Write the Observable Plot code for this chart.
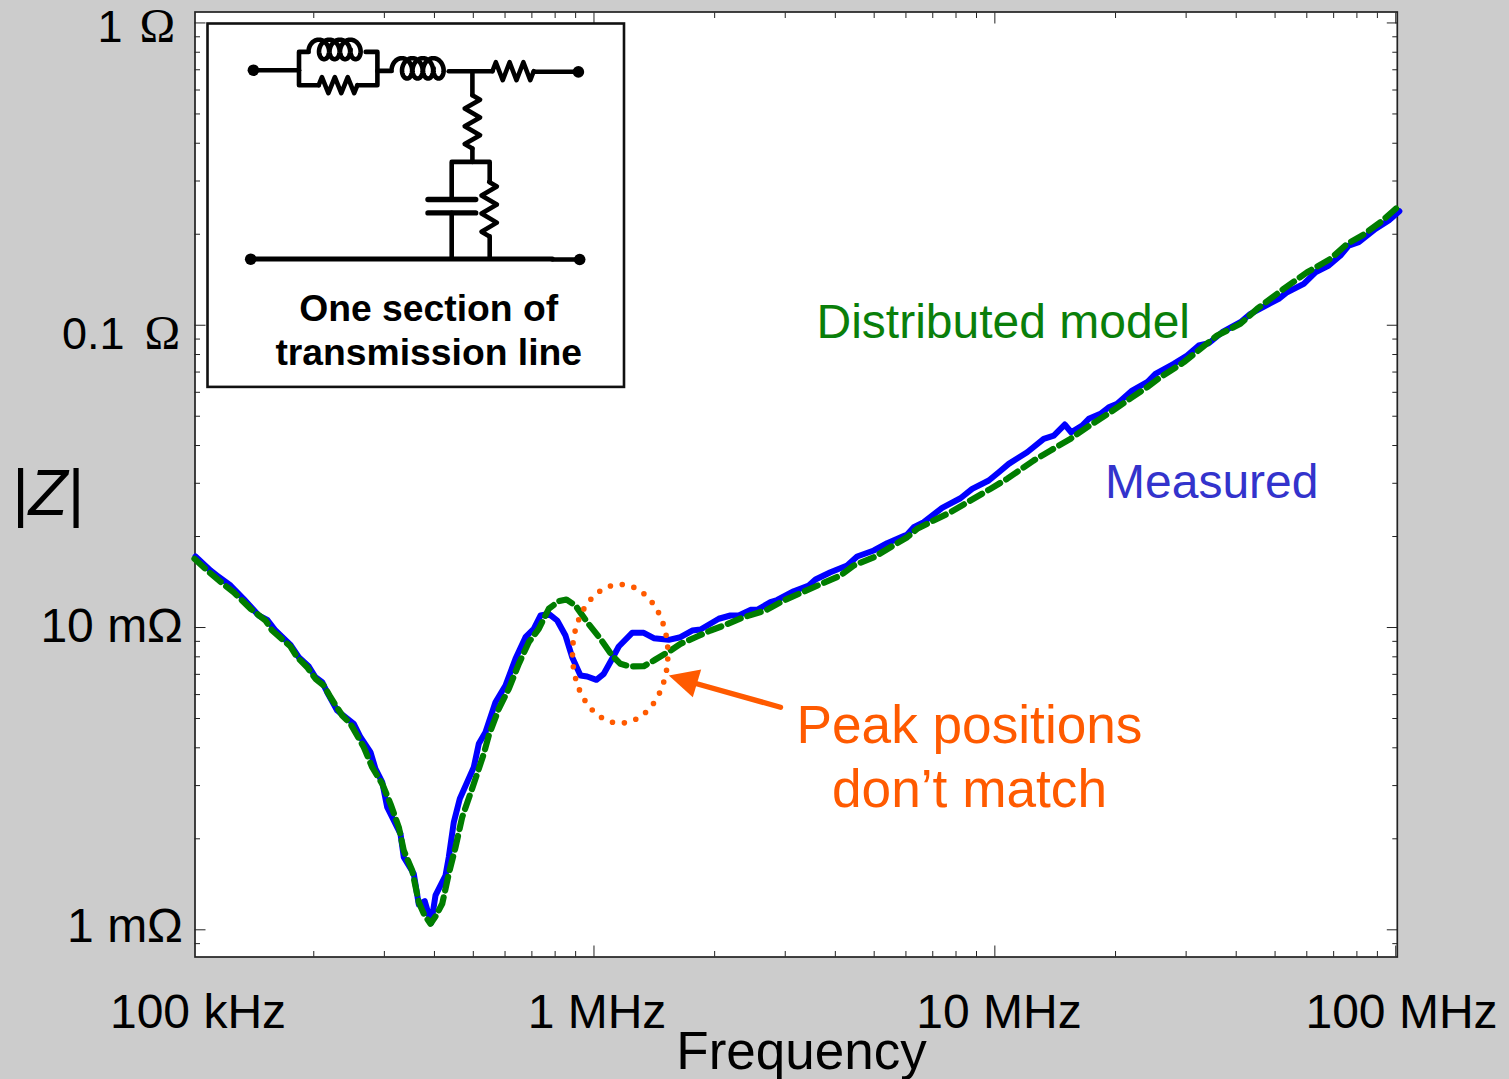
<!DOCTYPE html>
<html><head><meta charset="utf-8">
<script src="https://cdn.jsdelivr.net/npm/d3@7"></script>
<script src="https://cdn.jsdelivr.net/npm/@observablehq/plot@0.6"></script>
<style>html,body{margin:0;padding:0;background:#ccc;overflow:hidden}
#wrap{position:relative;width:1509px;height:1079px}
#wrap svg{position:absolute}</style></head><body><div id="wrap"></div>
<script>
// Frequency in MHz, impedance magnitude in milliohm
const measuredFreq=[0.1014,0.1105,0.1148,0.124,0.1336,0.1458,0.1531,0.1605,0.175,0.1835,0.1944,0.202,0.2099,0.216,0.2288,0.2517,0.2616,0.277,0.2851,0.2963,0.3049,0.3167,0.3291,0.3354,0.3552,0.3656,0.3784,0.3926,0.4024,0.4262,0.4343,0.447,0.4627,0.5014,0.516,0.5362,0.5679,0.6015,0.6371,0.6747,0.7077,0.7354,0.7714,0.8095,0.849,0.8823,0.9254,0.9617,1.014,1.058,1.11,1.153,1.245,1.331,1.41,1.537,1.643,1.758,1.844,2.048,2.19,2.297,2.457,2.553,2.756,2.864,3.15,3.434,3.569,3.89,4.281,4.534,4.988,5.387,6.043,6.276,6.647,7.388,8.207,8.778,9.656,10.23,10.83,12.04,13.24,14.03,14.94,15.5,16.51,17.15,18.34,19.24,20.19,22,23.98,25.15,27.94,30.18,32.26,34.16,36.9,40.98,43.41,51.07,53.59,58.95,63.05,68.06,72.79,76.34,80.86,88.99,96.06,102.1];
const measuredZ=[17.17,15.44,14.86,13.77,12.44,10.96,10.6,9.774,8.765,7.975,7.43,6.848,6.593,6.109,5.314,4.802,4.336,3.868,3.409,3.078,2.544,2.299,2.078,1.738,1.532,1.213,1.243,1.052,1.299,1.512,1.738,2.27,2.712,3.45,4.124,4.505,5.661,6.429,7.879,9.288,9.901,10.96,11.1,10.55,9.409,7.975,6.938,6.885,6.714,7.028,7.879,8.653,9.604,9.604,9.217,9.106,9.288,9.774,9.849,10.69,10.96,10.96,11.44,11.44,12.13,12.33,13.18,13.77,14.41,15.24,16.04,17.17,17.98,19,20.31,21.47,22.3,24.89,26.77,28.76,30.64,32.64,34.79,38.01,42.09,43.16,46.94,44.26,46.58,49.02,50.92,53.55,54.95,60.81,64.78,69.06,74.53,79.39,85.67,87.19,94.81,102.3,109.1,122.3,128.6,137.1,149.7,157.6,170,183.5,188.2,208.4,222,238.3];
const modelFreq=[0.1008,0.1084,0.1182,0.1263,0.1391,0.1516,0.1575,0.175,0.1818,0.1926,0.202,0.2118,0.2202,0.2355,0.247,0.2666,0.2797,0.2963,0.3107,0.3259,0.3354,0.352,0.3656,0.3762,0.391,0.4024,0.4182,0.4343,0.4514,0.4691,0.5014,0.531,0.5465,0.5788,0.613,0.6493,0.6876,0.7283,0.7714,0.817,0.8539,0.8992,0.9617,1.038,1.11,1.164,1.233,1.331,1.41,1.552,1.643,1.809,1.953,2.108,2.364,2.678,2.975,3.534,4.12,4.447,4.988,6.043,6.4,7.749,8.692,9.75,10.73,12.5,13.76,15.44,16.99,19.42,22,23.98,25.89,29.59,32.57,35.85,40.98,45.11,52.56,60.12,68.73,75.64,82.45,91.59,102.1];
const modelZ=[16.88,15.44,14.01,13.08,11.53,10.55,9.774,8.653,7.975,7.39,6.766,6.429,5.881,5.116,4.802,4.018,3.45,3.041,2.611,2.185,1.829,1.571,1.234,1.13,1.047,1.107,1.219,1.532,1.876,2.358,3.041,3.821,4.393,5.383,6.269,7.584,8.941,9.901,11.53,12.22,12.38,11.82,10.41,9.175,8.079,7.584,7.43,7.447,7.777,8.393,8.832,9.337,9.774,10.15,10.82,11.38,12.28,13.59,14.86,16.04,17.08,19.89,21.21,24.07,26.31,28.76,31.04,35.68,38.5,42.09,45.98,51.55,57.79,62.36,67.3,75.44,83.55,92.45,101.1,113.3,132,149.7,165.8,185.9,198,219.1,248.9];
// Annotations, read in the same units
const ringFreq=[1.529,1.521,1.497,1.46,1.411,1.353,1.291,1.226,1.162,1.102,1.047,0.9983,0.9577,0.9256,0.9025,0.8885,0.8838,0.8885,0.9025,0.9256,0.9577,0.9983,1.047,1.102,1.162,1.226,1.291,1.353,1.411,1.46,1.497,1.521];
const ringZ=[8.185,7.384,6.688,6.104,5.635,5.277,5.026,4.877,4.828,4.877,5.026,5.277,5.635,6.104,6.688,7.384,8.185,9.072,10.02,10.97,11.89,12.69,13.33,13.74,13.88,13.74,13.33,12.69,11.89,10.97,10.02,9.072];
const arrowHeadFreq=[1.537,1.851,1.764], arrowHeadZ=[6.938,7.262,5.881];
const arrowShaftFreq=[2.919,1.741], arrowShaftZ=[5.449,6.603];
const xDomain=[0.1011,100.9], yDomain=[0.8129,1087];
const xMajor=[1,10,100];
const xMinor=[0.1,1,10].flatMap(d=>[2,3,4,5,6,7,8,9].map(k=>k*d));
const yMajor=[1,10,100,1000];
const yMinor=[0.1,1,10,100].flatMap(d=>[2,3,4,5,6,7,8,9].map(k=>k*d)).filter(v=>v>yDomain[0]);
const pts=(fs,zs)=>fs.map((f,i)=>({f,z:zs[i]}));

const W=1509,H=1079,ML=194.5,MT=11.5,MR=W-1396.8,MB=H-956.5;
const sans="Liberation Sans",serif="Liberation Serif",orange="#ff5a00";
const T=(text,x,y,o={})=>Plot.text([text],{text:d=>d,frameAnchor:"top-left",dx:x-ML,dy:y-MT,lineAnchor:"bottom",fontFamily:sans,fontSize:48,fill:"#000",textAnchor:"start",...o});
const tickOpts=(a,size)=>({anchor:a,tickSize:-size,tickFormat:null,label:null,stroke:"#222",strokeWidth:1,text:null});
const main=Plot.plot({width:W,height:H,marginLeft:ML,marginTop:MT,marginRight:MR,marginBottom:MB,
 style:{background:"#ccc",fontFamily:sans,overflow:"visible"},
 x:{type:"log",domain:xDomain,axis:null},
 y:{type:"log",domain:yDomain,axis:null},
 marks:[
  Plot.frame({fill:"#fff",stroke:null}),
  ...["bottom","top"].flatMap(a=>[Plot.axisX(xMinor,tickOpts(a,5.5)),Plot.axisX(xMajor,tickOpts(a,11))]),
  ...["left","right"].flatMap(a=>[Plot.axisY(yMinor,tickOpts(a,5.5)),Plot.axisY(yMajor,tickOpts(a,11))]),
  Plot.frame({stroke:"#222",strokeWidth:1.7}),
  Plot.line(pts(measuredFreq,measuredZ),{x:"f",y:"z",stroke:"#0000ff",strokeWidth:6,strokeLinejoin:"round"}),
  Plot.line(pts(modelFreq,modelZ),{x:"f",y:"z",stroke:"#007d00",strokeWidth:6.2,strokeDasharray:"14 7",strokeLinejoin:"round"}),
  Plot.line(pts(ringFreq,ringZ),{x:"f",y:"z",stroke:orange,strokeWidth:5.6,strokeDasharray:"0 11.96",strokeDashoffset:-3,strokeLinecap:"round",curve:"catmull-rom-closed"}),
  Plot.line(pts(arrowShaftFreq,arrowShaftZ),{x:"f",y:"z",stroke:orange,strokeWidth:5.4}),
  Plot.line(pts(arrowHeadFreq,arrowHeadZ),{x:"f",y:"z",fill:orange,stroke:"none",curve:"linear-closed"}),
  T("100 kHz",197.5,1027.7,{textAnchor:"middle"}),T("1 MHz",596.5,1027.7,{textAnchor:"middle"}),T("10 MHz",998.5,1027.7,{textAnchor:"middle"}),T("100 MHz",1401,1027.7,{textAnchor:"middle"}),
  T("1",122,41,{textAnchor:"end",fontSize:45}),T("\u03a9",139,41,{fontFamily:serif}),
  T("0.1",124,348.3,{textAnchor:"end",fontSize:45}),T("\u03a9",144,348.3,{fontFamily:serif}),
  T("10 m\u03a9",182.5,641.7,{textAnchor:"end"}),T("1 m\u03a9",182.5,941,{textAnchor:"end"}),
  T("|",11.7,514,{fontSize:64}),T("Z",28,514,{fontSize:64,fontStyle:"italic"}),T("|",67.2,514,{fontSize:64}),
  T("Frequency",801,1068,{fontSize:53,textAnchor:"middle"}),
  T("Distributed model",816,337,{fill:"#0a7f0a"}),
  T("Measured",1104.5,497,{fill:"#3333cc"}),
  T("Peak positions",969,742,{fontSize:53.2,fill:orange,textAnchor:"middle"}),
  T("don\u2019t match",969,806,{fontSize:53.2,fill:orange,textAnchor:"middle"})
 ]});
main.style.left="0";main.style.top="0";
document.getElementById("wrap").appendChild(main);

// Inset schematic, on its own small plot with linear scales
const wires=[
 [[252.7,70],[298.3,70]],
 [[298.3,70],[298.3,51.7],[308,51.7]],
 [[365,51.7],[376.7,51.7],[376.7,85],[356.7,85]],
 [[318,85],[298.3,85],[298.3,70]],
 [[376.7,70.7],[391,70.7]],
 [[448,71],[491.7,71]],
 [[533,71.5],[577.7,71.5]],
 [[471.7,71],[471.7,95]],
 [[471.7,148.3],[471.7,161.7]],
 [[451,258.3],[451,212.7]],
 [[451,199.3],[451,161.7],[489,161.7],[489,181.7]],
 [[489,236],[489,258.3]],
 [[551.7,259.3],[579,259.3]]
];
function coil(x0,x1,top,bot){const cy=(top+bot)/2,ry=(bot-top)/2,rx=7.5,p=(x1-x0-2*rx)/4;const out=[];for(let i=0;i<=320;i++){const a=-Math.PI/2+i/320*8*Math.PI;out.push([x0+rx+p*(a+Math.PI/2)/(2*Math.PI)+rx*Math.sin(a),cy-ry*Math.cos(a)]);}return out;}
function zig(x0,y0,x1,y1,amp,n=6){const out=[[x0,y0]];const dx=x1-x0,dy=y1-y0,len=Math.hypot(dx,dy),nx=-dy/len,ny=dx/len;for(let i=0;i<n;i++){const t=(i+.5)/n,s=i%2?1:-1;out.push([x0+dx*t+nx*amp*s,y0+dy*t+ny*amp*s]);}out.push([x1,y1]);return out;}
const parts=[...wires,coil(308,365,39.5,59),coil(391,448,58,78.3),zig(318,85,356.7,85,8),zig(491.7,71,533,71,9),zig(471.7,95,471.7,148.3,7.7),zig(488.5,181.7,488.5,236,7.7)];
const sch=parts.flatMap((p,i)=>p.map(([x,y])=>({x,y,i})));
const L=206.8,R=623.3,Tp=23.3,B=386.7,pad=3;
const boldText=(s,y)=>Plot.text([s],{text:d=>d,x:()=>428,y:()=>y,lineAnchor:"bottom",fontFamily:sans,fontWeight:"bold",fontSize:37.3,fill:"#000"});
const plate=y=>Plot.line([{x:427.3,y},{x:475,y}],{x:"x",y:"y",stroke:"#000",strokeWidth:5.4});
const inset=Plot.plot({width:R-L+2*pad,height:B-Tp+2*pad,margin:pad,
 style:{background:"transparent",overflow:"visible"},
 x:{domain:[L,R],axis:null},y:{domain:[B,Tp],axis:null},
 marks:[
  Plot.frame({fill:"#fff",stroke:"#111",strokeWidth:2.6}),
  Plot.line(sch,{x:"x",y:"y",z:"i",stroke:"#000",strokeWidth:4.6,strokeLinejoin:"round"}),
  Plot.line([{x:250,y:258.8},{x:551.7,y:258.8}],{x:"x",y:"y",stroke:"#000",strokeWidth:5}),
  plate(199.3),plate(212.7),
  Plot.dot([[252.7,70],[577.7,71.7],[250,259],[579,259.3]],{x:d=>d[0],y:d=>d[1],r:5.8,fill:"#000"}),
  boldText("One section of",320.5),
  boldText("transmission line",364.5)
 ]});
inset.style.left=(L-pad)+"px";inset.style.top=(Tp-pad)+"px";
document.getElementById("wrap").appendChild(inset);
</script></body></html>
